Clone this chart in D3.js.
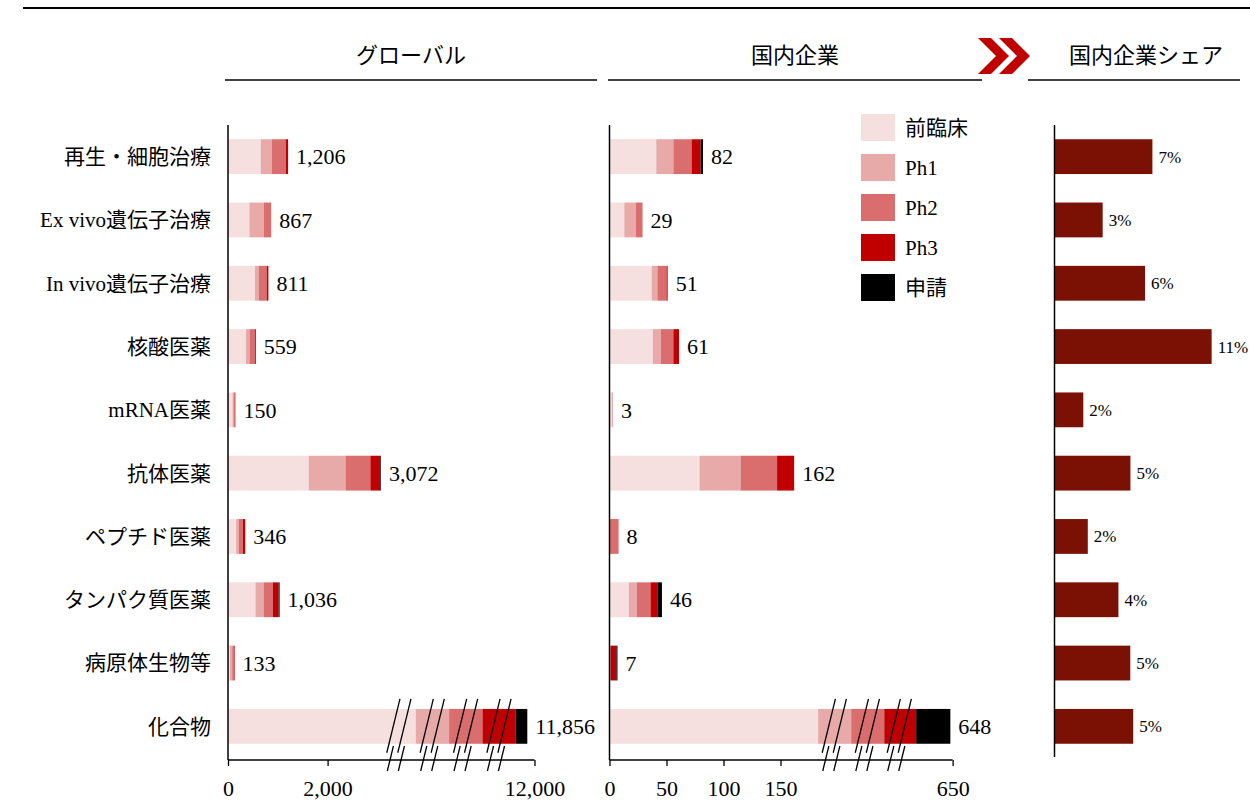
<!DOCTYPE html>
<html>
<head>
<meta charset="utf-8">
<script src="https://cdn.jsdelivr.net/npm/d3@7/dist/d3.min.js"></script>
<style>
    body { margin: 0; background: #fff; }
    svg text { font-family: "Liberation Serif", "Noto Sans CJK JP", serif; fill: #000; }
</style>
</head>
<body>
<svg id="chart" width="1250" height="801"></svg>
<script>

// ***** DATA *****
var categories = ["再生・細胞治療", "Ex vivo遺伝子治療", "In vivo遺伝子治療", "核酸医薬", "mRNA医薬",
                  "抗体医薬", "ペプチド医薬", "タンパク質医薬", "病原体生物等", "化合物"];
var stages = ["前臨床", "Ph1", "Ph2", "Ph3", "申請"];
var stageColors = ["#f6dfdf", "#e8a9a9", "#da6d6d", "#c00000", "#000000"];

// global pipeline counts by stage
var globalPre = [657, 430, 542, 362, 90, 1620, 165, 552, 40, 6500];
var globalPh1 = [221, 290, 80, 70, 30, 740, 55, 162, 45, 2400];
var globalPh2 = [281, 147, 155, 107, 25, 500, 80, 188, 35, 1900];
var globalPh3 = [47, 0, 34, 20, 5, 200, 46, 114, 13, 826];
var globalFiled = [0, 0, 0, 0, 0, 12, 0, 20, 0, 230];

// domestic companies
var domesticPre = [41, 13, 37, 38, 2, 79, 0, 17, 0, 183];
var domesticPh1 = [15, 10, 5, 7, 1, 36, 0, 7, 0, 200];
var domesticPh2 = [16, 6, 8, 11, 0, 32, 8, 12, 1, 147];
var domesticPh3 = [8, 0, 1, 5, 0, 15, 0, 6, 5, 88];
var domesticFiled = [2, 0, 0, 0, 0, 0, 0, 4, 1, 30];

var globalTicks = [0, 2000, 12000];
var domesticTicks = [0, 50, 100, 150, 650];

// last row is drawn with axis breaks: shown length of each cut segment (null = to scale)
var globalBreakShown = [3770, 670, 670, 670, null];
var domesticBreakShown = [null, 29, 29, 28, null];

var shareColor = "#7a1104";

// ***** LAYOUT *****
var svg = d3.select("#chart");
var plotTop = 125, plotBottom = 758, axisY = 760;
var fmt = d3.format(",");

var y = d3.scaleBand()
    .domain(categories)
    .range([plotTop, plotBottom])
    .paddingInner(0.45)
    .paddingOuter(0.225);

function buildRows(a, b, c, d, e) {
    return categories.map(function(cat, i) {
        var r = { cat: cat };
        r[stages[0]] = a[i]; r[stages[1]] = b[i]; r[stages[2]] = c[i];
        r[stages[3]] = d[i]; r[stages[4]] = e[i];
        r.total = a[i] + b[i] + c[i] + d[i] + e[i];
        return r;
    });
}

var globalRows = buildRows(globalPre, globalPh1, globalPh2, globalPh3, globalFiled);
var domesticRows = buildRows(domesticPre, domesticPh1, domesticPh2, domesticPh3, domesticFiled);

// piecewise scale for the broken row (and its axis)
function brokenScale(x, row, shown, halfPx) {
    var h = halfPx / (x(1) - x(0));
    var dom = [0], rng = [0], breaks = [];
    var t = 0, d = 0;
    stages.forEach(function(s, k) {
        var v = row[s];
        var len = shown[k] == null ? v : shown[k];
        if (shown[k] != null) {
            var b = d + len - h;
            dom.push(t + (b - d)); rng.push(b);
            dom.push(t + v - h); rng.push(b);
            breaks.push(b);
        }
        t += v; d += len;
        if (t > dom[dom.length - 1]) { dom.push(t); rng.push(d); }
    });
    return {
        scale: d3.scaleLinear().domain(dom).range(rng.map(x)),
        breaks: breaks.map(x)
    };
}

function drawPanel(rows, x, shown, ticks) {
    var g = svg.append("g");
    var last = rows[rows.length - 1];
    var br = brokenScale(x, last, shown, 17);
    var xb = br.scale;

    var series = d3.stack().keys(stages)(rows);

    g.selectAll(".layer")
        .data(series)
        .enter()
        .append("g")
        .attr("fill", function(d, i) { return stageColors[i]; })
        .selectAll("rect")
        .data(function(d) { return d; })
        .enter()
        .append("rect")
        .attr("x", function(d) {
            var sc = d.data.cat === last.cat ? xb : x;
            return sc(d[0]);
        })
        .attr("width", function(d) {
            var sc = d.data.cat === last.cat ? xb : x;
            return Math.max(0, sc(d[1]) - sc(d[0]));
        })
        .attr("y", function(d) { return y(d.data.cat); })
        .attr("height", y.bandwidth());

    // totals
    g.selectAll(".total")
        .data(rows)
        .enter()
        .append("text")
        .attr("x", function(d) { return (d.cat === last.cat ? xb : x)(d.total) + 8; })
        .attr("y", function(d) { return y(d.cat) + y.bandwidth() / 2; })
        .attr("dy", "0.35em")
        .style("font-size", "22px")
        .text(function(d) { return fmt(d.total); });

    // y axis line
    g.append("line")
        .attr("x1", x(0)).attr("x2", x(0))
        .attr("y1", plotTop).attr("y2", axisY)
        .attr("stroke", "#000").attr("stroke-width", 1.5);

    // x axis
    var axis = g.append("g")
        .attr("transform", "translate(0," + axisY + ")")
        .call(d3.axisBottom(xb).tickValues(ticks).tickSize(6).tickSizeOuter(0)
            .tickPadding(14).tickFormat(fmt));
    axis.select(".domain").remove();
    axis.selectAll(".tick line").attr("stroke", "#000").attr("stroke-width", 1.3);
    axis.selectAll(".tick text").style("font-size", "22px")
        .style("font-family", "'Liberation Serif', serif").attr("fill", "#000");
    g.append("line")
        .attr("x1", xb(0)).attr("x2", xb(d3.max(ticks)))
        .attr("y1", axisY).attr("y2", axisY)
        .attr("stroke", "#000").attr("stroke-width", 1.5);

    // break marks: a pair on the bar and a pair across the axis
    var top = y(last.cat), bot = y(last.cat) + y.bandwidth();
    var slope = 0.245;
    br.breaks.forEach(function(bx) {
        [-5.5, 5.5].forEach(function(off) {
            var c = bx + off, cy = (top + bot) / 2;
            [[top - 10, bot + 9, 0], [axisY - 14, axisY + 11, 5]].forEach(function(seg) {
                g.append("line")
                    .attr("x1", c + seg[2] - (seg[1] - cy) * slope).attr("y1", seg[1])
                    .attr("x2", c + seg[2] - (seg[0] - cy) * slope).attr("y2", seg[0])
                    .attr("stroke", "#000").attr("stroke-width", 1.3);
            });
        });
    });
}

// ***** GLOBAL PANEL *****
var xGlobal = d3.scaleLinear().domain([0, 2000]).range([228, 327.6]);
drawPanel(globalRows, xGlobal, globalBreakShown, globalTicks);

// ***** DOMESTIC PANEL *****
var xDomestic = d3.scaleLinear().domain([0, 50]).range([609.5, 666.5]);
drawPanel(domesticRows, xDomestic, domesticBreakShown, domesticTicks);

// ***** SHARE PANEL *****
var shares = categories.map(function(c, i) {
    return { cat: c, share: domesticRows[i].total / globalRows[i].total };
});
var xShare = d3.scaleLinear().domain([0, 0.11]).range([1054.5, 1212.9]);

svg.append("g").selectAll("rect")
    .data(shares)
    .enter()
    .append("rect")
    .attr("x", xShare(0))
    .attr("y", function(d) { return y(d.cat); })
    .attr("width", function(d) { return xShare(d.share) - xShare(0); })
    .attr("height", y.bandwidth())
    .attr("fill", shareColor);

svg.append("g").selectAll("text")
    .data(shares)
    .enter()
    .append("text")
    .attr("x", function(d) { return xShare(d.share) + 6; })
    .attr("y", function(d) { return y(d.cat) + y.bandwidth() / 2; })
    .attr("dy", "0.35em")
    .style("font-size", "17px")
    .text(function(d) { return Math.round(d.share * 100) + "%"; });

svg.append("line")
    .attr("x1", xShare(0)).attr("x2", xShare(0))
    .attr("y1", plotTop).attr("y2", 757)
    .attr("stroke", "#000").attr("stroke-width", 1.5);

// ***** CATEGORY LABELS *****
svg.append("g").selectAll("text")
    .data(categories)
    .enter()
    .append("text")
    .attr("x", 211)
    .attr("y", function(d) { return y(d) + y.bandwidth() / 2; })
    .attr("dy", "0.35em")
    .attr("text-anchor", "end")
    .style("font-size", "21px")
    .text(function(d) { return d; });

// ***** LEGEND *****
var legend = svg.selectAll(".legend")
    .data(stages)
    .enter()
    .append("g")
    .attr("transform", function(d, i) { return "translate(861," + (114 + i * 40) + ")"; });

legend.append("rect")
    .attr("width", 34)
    .attr("height", 27)
    .attr("fill", function(d, i) { return stageColors[i]; });

legend.append("text")
    .attr("x", 44)
    .attr("y", 14)
    .attr("dy", "0.35em")
    .style("font-size", "21px")
    .text(function(d) { return d; });

// ***** HEADERS *****
svg.append("line")
    .attr("x1", 23).attr("x2", 1250).attr("y1", 8).attr("y2", 8)
    .attr("stroke", "#000").attr("stroke-width", 2);

var headers = [
    { text: "グローバル", cx: 411, x1: 225, x2: 597 },
    { text: "国内企業", cx: 795, x1: 608, x2: 982 },
    { text: "国内企業シェア", cx: 1146, x1: 1028, x2: 1240 }
];
headers.forEach(function(h) {
    svg.append("text")
        .attr("x", h.cx).attr("y", 55)
        .attr("dy", "0.35em")
        .attr("text-anchor", "middle")
        .style("font-size", "22px")
        .text(h.text);
    svg.append("line")
        .attr("x1", h.x1).attr("x2", h.x2).attr("y1", 80).attr("y2", 80)
        .attr("stroke", "#000").attr("stroke-width", 1.5);
});

// double chevron
[978, 999].forEach(function(x0) {
    svg.append("polygon")
        .attr("points", [[x0, 38], [x0 + 13, 38], [x0 + 31, 56], [x0 + 13, 74], [x0, 74], [x0 + 18, 56]]
            .map(function(p) { return p.join(","); }).join(" "))
        .attr("fill", "#c00000");
});

</script>
</body>
</html>
